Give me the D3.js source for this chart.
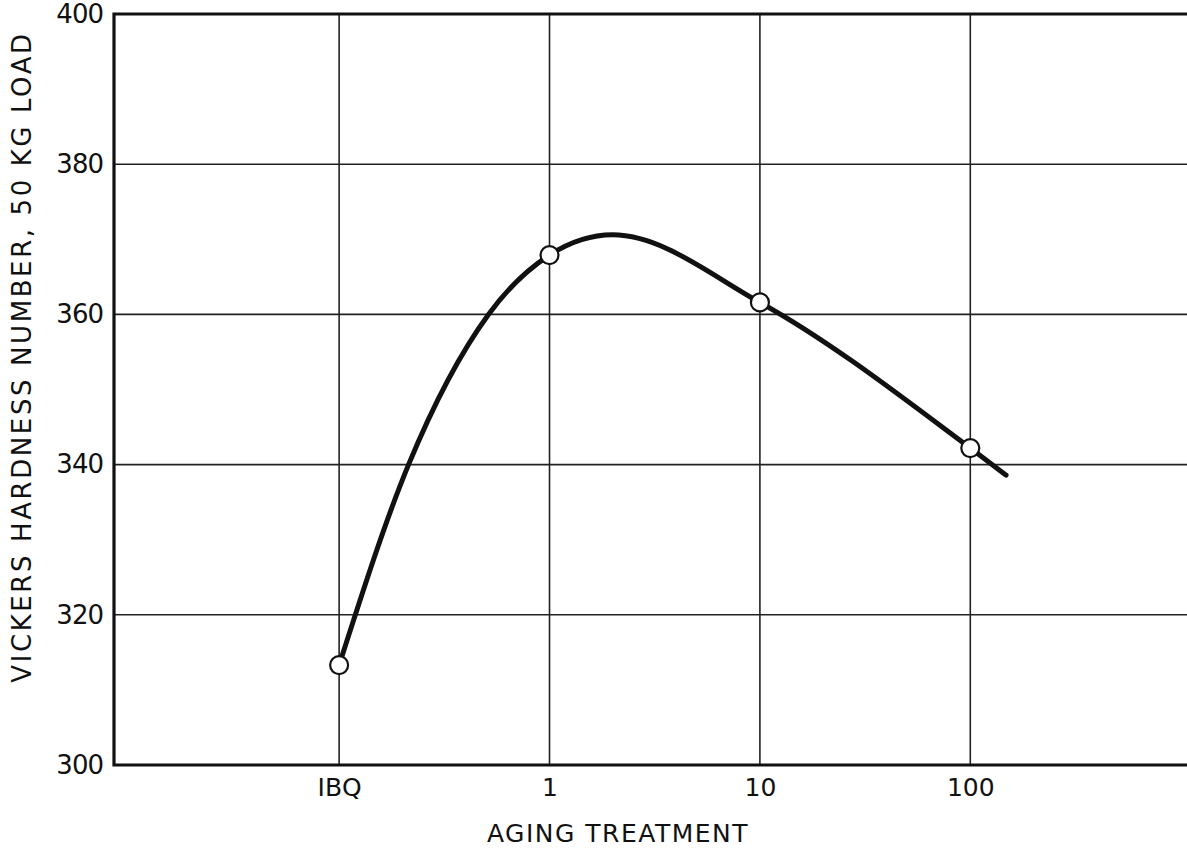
<!DOCTYPE html>
<html><head><meta charset="utf-8">
<script src="https://cdn.jsdelivr.net/npm/d3@7"></script>
<style>body{margin:0;background:#fff}svg{display:block}text{font-family:"DejaVu Sans",sans-serif;fill:#111}</style>
</head><body><svg id="c" width="1187" height="848"></svg>
<script>
const categories = ["IBQ", "1", "10", "100"];
const hardness = [313.3, 367.9, 361.6, 342.2];
// smooth hand-drawn fit curve (category index, value)
const curveIdx = [0, 0.33, 0.71, 1, 1.3, 2, 3, 3.17];
const curveVal = [313.3, 340, 360, 367.9, 370.6, 361.6, 342.2, 338.6];
const yTicks = [300, 320, 340, 360, 380, 400];

(function () {
const svg = d3.select("#c");
const mLeft = 114, mRight = 1187, mTop = 14, mBottom = 765;
const x = d3.scaleLinear().domain([-1.07, 4.03]).range([mLeft, mRight]);
const y = d3.scaleLinear().domain([300, 400]).range([mBottom, mTop]);

// grid
svg.append("g").selectAll("line").data(yTicks.filter(v => v > 300 && v < 400)).join("line")
  .attr("x1", mLeft).attr("x2", mRight).attr("y1", d => y(d)).attr("y2", d => y(d))
  .attr("stroke", "#222").attr("stroke-width", 1.6);
svg.append("g").selectAll("line").data(categories).join("line")
  .attr("x1", (d, i) => x(i)).attr("x2", (d, i) => x(i)).attr("y1", mTop).attr("y2", mBottom)
  .attr("stroke", "#222").attr("stroke-width", 1.6);

// frame
svg.append("path").attr("d", `M${mRight},${mTop}H${mLeft}V${mBottom}H${mRight}`)
  .attr("fill", "none").attr("stroke", "#111").attr("stroke-width", 3.2);

// y axis
const yAxis = d3.axisLeft(y).tickValues(yTicks).tickSize(0).tickPadding(11).tickFormat(d3.format("d"));
const gy = svg.append("g").attr("transform", `translate(${mLeft},0)`).call(yAxis);
gy.select(".domain").remove();
gy.selectAll("text").attr("font-size", 26).attr("font-family", "DejaVu Sans").attr("fill", "#111")
  .attr("letter-spacing", -1);

// x axis
const xAxis = d3.axisBottom(x).tickValues(d3.range(categories.length)).tickSize(0).tickPadding(13)
  .tickFormat(i => categories[i]);
const gx = svg.append("g").attr("transform", `translate(0,${mBottom})`).call(xAxis);
gx.select(".domain").remove();
gx.selectAll("text").attr("font-size", 25).attr("font-family", "DejaVu Sans").attr("fill", "#111");

// curve
const line = d3.line().x(d => x(d[0])).y(d => y(d[1])).curve(d3.curveMonotoneX);
svg.append("path").datum(curveIdx.map((v, i) => [v, curveVal[i]]))
  .attr("d", line).attr("fill", "none").attr("stroke", "#111").attr("stroke-width", 5)
  .attr("stroke-linecap", "round");

// points
svg.append("g").selectAll("circle").data(hardness).join("circle")
  .attr("cx", (d, i) => x(i)).attr("cy", d => y(d)).attr("r", 9)
  .attr("fill", "#fff").attr("stroke", "#111").attr("stroke-width", 2.2);

// titles
svg.append("text").attr("transform", `translate(31,357) rotate(-90)`)
  .attr("text-anchor", "middle").attr("font-size", 26).attr("letter-spacing", 2.6)
  .text("VICKERS HARDNESS NUMBER, 50 KG LOAD");
svg.append("text").attr("x", 618).attr("y", 842).attr("text-anchor", "middle")
  .attr("font-size", 25).attr("letter-spacing", 1.5).text("AGING TREATMENT");
})();
</script></body></html>
